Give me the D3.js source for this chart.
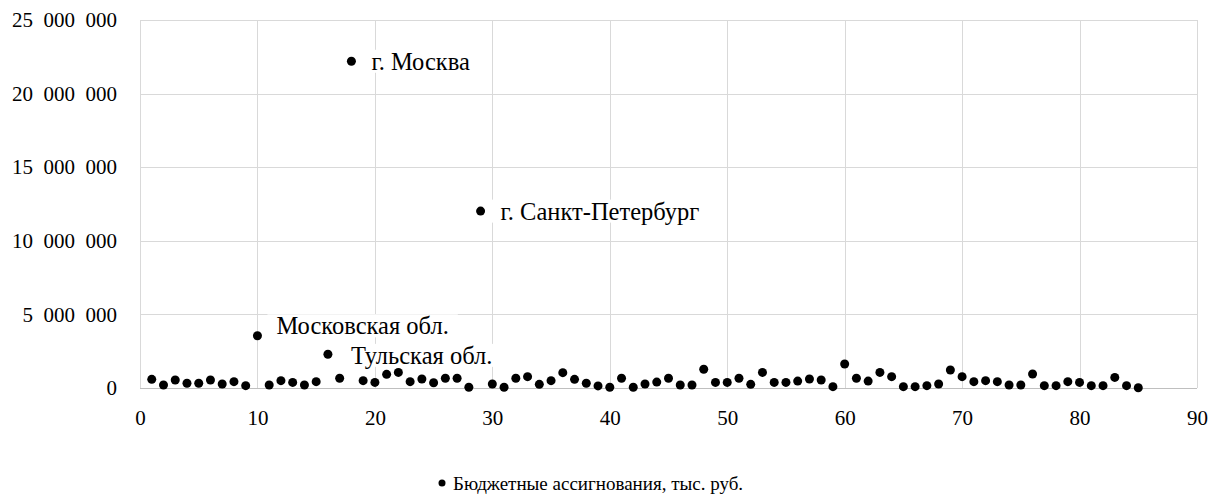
<!DOCTYPE html>
<html>
<head>
<meta charset="utf-8">
<script src="https://cdn.jsdelivr.net/npm/d3@7"></script>
<style>
  html, body { margin: 0; padding: 0; background: #fff; }
  svg { display: block; }
</style>
</head>
<body>
<svg id="chart" width="1218" height="498"></svg>
<script>
// Region index (1..85)
const regionIndex = d3.range(1, 86);
// Budget allocations, thousand rubles
const allocations = [
  590000, 200000, 540000, 320000, 320000, 540000, 270000, 430000, 160000, 3550000,
  200000, 500000, 380000, 200000, 430000, 2290000, 660000, 22200000, 500000, 380000,
  930000, 1060000, 430000, 610000, 360000, 660000, 660000, 50000, 12020000, 270000,
  50000, 660000, 770000, 250000, 500000, 1040000, 590000, 320000, 140000, 50000,
  660000, 50000, 270000, 400000, 660000, 200000, 200000, 1270000, 380000, 380000,
  660000, 250000, 1060000, 380000, 380000, 470000, 610000, 540000, 90000, 1630000,
  660000, 470000, 1060000, 770000, 90000, 90000, 160000, 270000, 1220000, 770000,
  430000, 500000, 430000, 200000, 200000, 950000, 160000, 160000, 430000, 380000,
  160000, 160000, 720000, 160000, 20000
];
const seriesName = "Бюджетные ассигнования, тыс. руб.";
const xTicks = [0, 10, 20, 30, 40, 50, 60, 70, 80, 90];
const yTicks = [0, 5000000, 10000000, 15000000, 20000000, 25000000];
// Labelled points: region index and label
const labelRegions = [18, 29, 10, 16];
const labelTexts = ["г. Москва", "г. Санкт-Петербург", "Московская обл.", "Тульская обл."];
const labelDx = [20, 20, 19, 23];
const labelDy = [0, 0, -10, 1];

const FONT = '"Liberation Serif", "Times New Roman", Tinos, serif';
const data = regionIndex.map((r, i) => ({ x: r, y: allocations[i] }));

const svg = d3.select("#chart");
const pLeft = 140, pRight = 1197, pTop = 20, pBottom = 388;

const x = d3.scaleLinear().domain([0, 90]).range([pLeft, pRight]);
const y = d3.scaleLinear().domain([0, 25000000]).range([pBottom, pTop]);

const fmt = v => d3.format(",")(v).replace(/,/g, "\u2007");

// Gridlines
const grid = svg.append("g");
grid.selectAll("line.h").data(yTicks).join("line")
  .attr("x1", pLeft).attr("x2", pRight)
  .attr("y1", d => Math.round(y(d)) + 0.5).attr("y2", d => Math.round(y(d)) + 0.5)
  .attr("stroke", d => d === 0 ? "#bfbfbf" : "#d9d9d9").attr("stroke-width", 1);
grid.selectAll("line.v").data(xTicks).join("line")
  .attr("x1", d => Math.round(x(d)) + 0.5).attr("x2", d => Math.round(x(d)) + 0.5)
  .attr("y1", pTop).attr("y2", pBottom)
  .attr("stroke", "#d9d9d9").attr("stroke-width", 1);

// Axes using d3 axis generators (no domain line, no tick lines)
const yAxis = svg.append("g").attr("transform", `translate(${pLeft - 23},0)`)
  .call(d3.axisLeft(y).tickValues(yTicks).tickFormat(fmt).tickSize(0).tickPadding(0));
yAxis.select(".domain").remove();
yAxis.selectAll("text").style("font-family", FONT).style("font-size", "21px").attr("fill", "#000");

const xAxis = svg.append("g").attr("transform", `translate(0,${pBottom})`)
  .call(d3.axisBottom(x).tickValues(xTicks).tickFormat(d3.format("d")).tickSize(0).tickPadding(22));
xAxis.select(".domain").remove();
xAxis.selectAll("text").style("font-family", FONT).style("font-size", "21px").attr("fill", "#000");

// Points
svg.append("g").selectAll("circle").data(data).join("circle")
  .attr("cx", d => x(d.x)).attr("cy", d => y(d.y)).attr("r", 4.5).attr("fill", "#000");

// Data labels with white background
const lg = svg.append("g");
labelRegions.forEach((r, i) => {
  const d = data[r - 1];
  const g = lg.append("g");
  const t = g.append("text")
    .attr("x", x(d.x) + labelDx[i]).attr("y", y(d.y) + labelDy[i])
    .attr("dy", "0.35em")
    .style("font-family", FONT).style("font-size", "24.5px").attr("fill", "#000")
    .text(labelTexts[i]);
  const bb = t.node().getBBox();
  g.insert("rect", "text")
    .attr("x", bb.x - 9).attr("y", bb.y + 2)
    .attr("width", bb.width + 18).attr("height", bb.height - 4)
    .attr("fill", "#fff");
});

// Legend
const leg = svg.append("g");
leg.append("text").attr("x", 453).attr("y", 483).attr("dy", "0.35em")
  .style("font-family", FONT).style("font-size", "19px").attr("fill", "#000").text(seriesName);
leg.append("circle").attr("cx", 442).attr("cy", 483).attr("r", 3.5).attr("fill", "#000");
</script>
</body>
</html>
